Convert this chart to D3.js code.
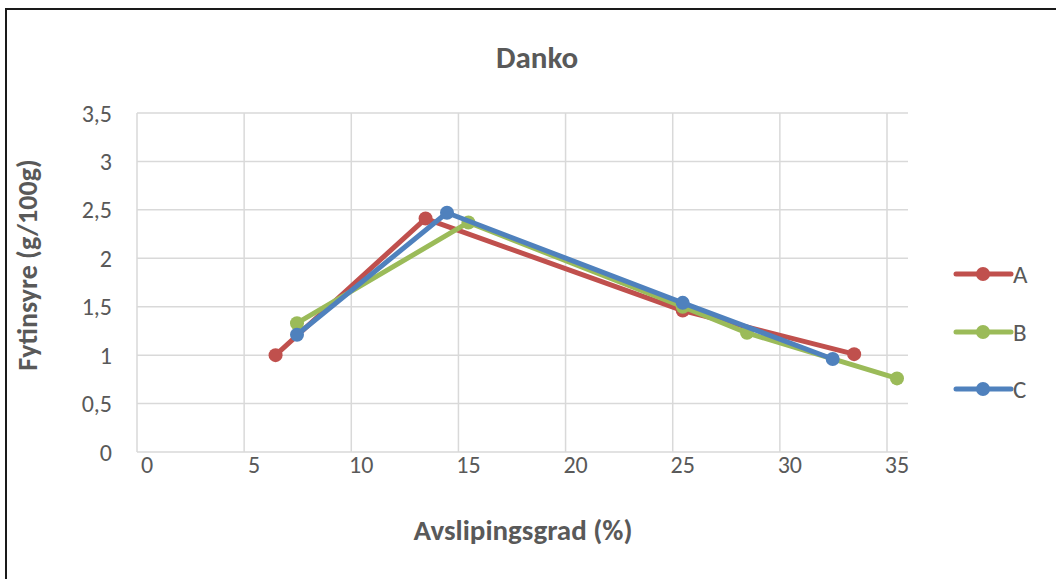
<!DOCTYPE html>
<html>
<head>
<meta charset="utf-8">
<script src="https://cdn.jsdelivr.net/npm/d3@7"></script>
<style>
  html, body { margin: 0; padding: 0; background: #fff; }
  svg { display: block; font-family: Carlito, Lato, "Open Sans", sans-serif; }
</style>
</head>
<body>
<svg id="chart" width="1056" height="579"></svg>
<script>
// Phytic acid content versus degree of abrasion (Danko)
const seriesNames = ["A", "B", "C"];
const seriesColors = ["#C0504D", "#9BBB59", "#4F81BD"];
const xA = [6, 13, 25, 33];
const yA = [1.00, 2.41, 1.46, 1.01];
const xB = [7, 15, 25, 28, 35];
const yB = [1.33, 2.37, 1.50, 1.23, 0.76];
const xC = [7, 14, 25, 32];
const yC = [1.21, 2.47, 1.54, 0.96];
const xTicks = [0, 5, 10, 15, 20, 25, 30, 35];
const yTicks = [0, 0.5, 1, 1.5, 2, 2.5, 3, 3.5];

const seriesX = [xA, xB, xC];
const seriesY = [yA, yB, yC];

const svg = d3.select("#chart");

// Outer frame
svg.append("rect")
  .attr("x", 6).attr("y", 9)
  .attr("width", 1070).attr("height", 600)
  .attr("fill", "none").attr("stroke", "#1a1a1a").attr("stroke-width", 2);

const plotLeft = 137, plotRight = 908, plotTop = 113, plotBottom = 452;
const x = d3.scaleLinear().domain([0, 35]).range([147, 897]);
const y = d3.scaleLinear().domain([0, 3.5]).range([plotBottom, plotTop]);
const gridShift = -10;

// Gridlines
svg.append("g").selectAll("line.h").data(yTicks).join("line")
  .attr("x1", plotLeft).attr("x2", plotRight)
  .attr("y1", d => y(d)).attr("y2", d => y(d))
  .attr("stroke", "#d9d9d9").attr("stroke-width", 1.5);
svg.append("g").selectAll("line.v").data(xTicks).join("line")
  .attr("x1", d => x(d) + gridShift).attr("x2", d => x(d) + gridShift)
  .attr("y1", plotTop).attr("y2", plotBottom)
  .attr("stroke", "#d9d9d9").attr("stroke-width", 1.5);

const fmt = d => String(d).replace(".", ",");

// Tick labels
svg.append("g").selectAll("text").data(yTicks).join("text")
  .attr("x", 112).attr("y", d => y(d)).attr("dy", "0.36em")
  .attr("text-anchor", "end").attr("font-size", 24).attr("fill", "#595959")
  .text(fmt);
svg.append("g").selectAll("text").data(xTicks).join("text")
  .attr("x", d => x(d)).attr("y", 473)
  .attr("text-anchor", "middle").attr("font-size", 24).attr("fill", "#595959")
  .text(fmt);

// Titles
svg.append("text").attr("x", 537).attr("y", 68)
  .attr("text-anchor", "middle").attr("font-size", 31).attr("font-weight", "bold")
  .attr("fill", "#595959").text("Danko");
svg.append("text").attr("x", 523).attr("y", 540)
  .attr("text-anchor", "middle").attr("font-size", 29).attr("font-weight", "bold")
  .attr("fill", "#595959").text("Avslipingsgrad (%)");
svg.append("text")
  .attr("transform", "translate(37,265) rotate(-90)")
  .attr("text-anchor", "middle").attr("font-size", 28).attr("font-weight", "bold")
  .attr("fill", "#595959").text("Fytinsyre (g/100g)");

// Series lines and markers
const line = d3.line().x(d => x(d[0])).y(d => y(d[1]));
seriesNames.forEach((name, i) => {
  const pts = seriesX[i].map((v, j) => [v, seriesY[i][j]]);
  const g = svg.append("g");
  g.append("path").datum(pts).attr("d", line)
    .attr("fill", "none").attr("stroke", seriesColors[i])
    .attr("stroke-width", 5).attr("stroke-linejoin", "round").attr("stroke-linecap", "round");
  g.selectAll("circle").data(pts).join("circle")
    .attr("cx", d => x(d[0])).attr("cy", d => y(d[1])).attr("r", 7)
    .attr("fill", seriesColors[i]);
});

// Legend
const legend = svg.append("g");
const legendY = [274, 332, 389];
seriesNames.forEach((name, i) => {
  legend.append("line").attr("x1", 956).attr("x2", 1011)
    .attr("y1", legendY[i]).attr("y2", legendY[i])
    .attr("stroke", seriesColors[i]).attr("stroke-width", 5).attr("stroke-linecap", "round");
  legend.append("circle").attr("cx", 983).attr("cy", legendY[i]).attr("r", 7)
    .attr("fill", seriesColors[i]);
  legend.append("text").attr("x", 1013).attr("y", legendY[i]).attr("dy", "0.36em")
    .attr("font-size", 25).attr("fill", "#595959").text(name);
});
</script>
</body>
</html>
